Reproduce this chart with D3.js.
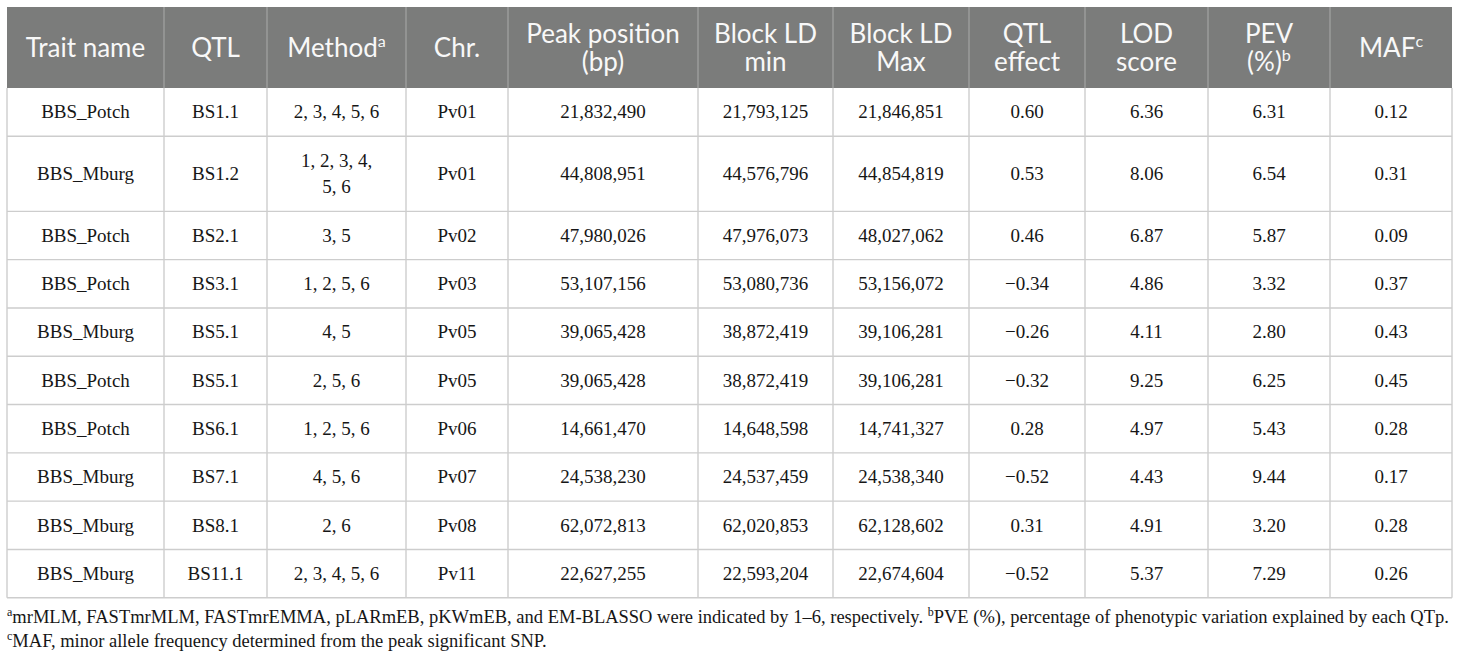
<!DOCTYPE html>
<html>
<head>
<meta charset="utf-8">
<script src="https://cdn.jsdelivr.net/npm/d3@7/dist/d3.min.js"></script>
<style>
  html, body { margin: 0; padding: 0; background: #ffffff; }
  svg { display: block; }
</style>
</head>
<body>
<div id="chart"></div>
<script>
// ---------- data ----------
const headers   = ["Trait name", "QTL", "Method", "Chr.", "Peak position\n(bp)", "Block LD\nmin", "Block LD\nMax", "QTL\neffect", "LOD\nscore", "PEV\n(%)", "MAF"];
const headerSup = ["", "", "a", "", "", "", "", "", "", "b", "c"];

const traits  = ["BBS_Potch", "BBS_Mburg", "BBS_Potch", "BBS_Potch", "BBS_Mburg", "BBS_Potch", "BBS_Potch", "BBS_Mburg", "BBS_Mburg", "BBS_Mburg"];
const qtls    = ["BS1.1", "BS1.2", "BS2.1", "BS3.1", "BS5.1", "BS5.1", "BS6.1", "BS7.1", "BS8.1", "BS11.1"];
const methods = [[2,3,4,5,6], [1,2,3,4,5,6], [3,5], [1,2,5,6], [4,5], [2,5,6], [1,2,5,6], [4,5,6], [2,6], [2,3,4,5,6]];
const chrs    = ["Pv01", "Pv01", "Pv02", "Pv03", "Pv05", "Pv05", "Pv06", "Pv07", "Pv08", "Pv11"];
const peakPos = [21832490, 44808951, 47980026, 53107156, 39065428, 39065428, 14661470, 24538230, 62072813, 22627255];
const ldMin   = [21793125, 44576796, 47976073, 53080736, 38872419, 38872419, 14648598, 24537459, 62020853, 22593204];
const ldMax   = [21846851, 44854819, 48027062, 53156072, 39106281, 39106281, 14741327, 24538340, 62128602, 22674604];
const effects = [0.60, 0.53, 0.46, -0.34, -0.26, -0.32, 0.28, -0.52, 0.31, -0.52];
const lods    = [6.36, 8.06, 6.87, 4.86, 4.11, 9.25, 4.97, 4.43, 4.91, 5.37];
const pevs    = [6.31, 6.54, 5.87, 3.32, 2.80, 6.25, 5.43, 9.44, 3.20, 7.29];
const mafs    = [0.12, 0.31, 0.09, 0.37, 0.43, 0.45, 0.28, 0.17, 0.28, 0.26];

const footnotes = [
  [["a", true], ["mrMLM, FASTmrMLM, FASTmrEMMA, pLARmEB, pKWmEB, and EM-BLASSO were indicated by 1\u20136, respectively. ", false], ["b", true], ["PVE (%), percentage of phenotypic variation explained by each QTp.", false]],
  [["c", true], ["MAF, minor allele frequency determined from the peak significant SNP.", false]]
];

// ---------- layout ----------
const W = 1460, H = 661;
const colWidths = [157, 103, 139, 102, 190, 135, 136, 116, 123, 122, 122];
const left = 7, headTop = 7, headBottom = 88;
const colX = [left].concat(Array.from(d3.cumsum(colWidths), d => left + d));
const tableRight = colX[colX.length - 1];

const headFont = "Lato, 'Open Sans', sans-serif", headSize = 26, headLH = 28.3;
const bodyFont = "'Liberation Serif', 'DejaVu Serif', serif", bodySize = 19, bodyLH = 26;
const baseRowH = 48.3;

const fmtInt = d3.format(",");
const fmt2 = d3.format(".2f");

// cells as text per column
const rows = traits.map((t, i) => [
  t, qtls[i], methods[i].join(", "), chrs[i],
  fmtInt(peakPos[i]), fmtInt(ldMin[i]), fmtInt(ldMax[i]),
  fmt2(effects[i]), fmt2(lods[i]), fmt2(pevs[i]), fmt2(mafs[i])
]);

const svg = d3.select("#chart").append("svg")
  .attr("width", W).attr("height", H)
  .attr("viewBox", `0 0 ${W} ${H}`);

// measurement helper
const meas = svg.append("text").attr("font-family", bodyFont).attr("font-size", bodySize).attr("visibility", "hidden");
function textW(s) { meas.text(s); return meas.node().getComputedTextLength(); }

function wrap(s, maxW) {
  const words = s.split(" ");
  const lines = [];
  let cur = "";
  words.forEach(w => {
    const trial = cur ? cur + " " + w : w;
    if (cur && textW(trial) > maxW) { lines.push(cur); cur = w; }
    else cur = trial;
  });
  if (cur) lines.push(cur);
  return lines;
}

const cellLines = rows.map(r => r.map((s, j) => wrap(s, colWidths[j] - 51)));
meas.remove();

const rowHeights = cellLines.map(r => baseRowH + (d3.max(r, l => l.length) - 1) * (bodyLH + 0.75));
const rowY = [headBottom].concat(Array.from(d3.cumsum(rowHeights), d => headBottom + d));
const tableBottom = rowY[rowY.length - 1];

// x scale for column centres
const xCenter = d3.scaleOrdinal().domain(d3.range(colWidths.length)).range(colWidths.map((w, j) => colX[j] + w / 2));

// ---------- header ----------
svg.append("rect")
  .attr("x", left).attr("y", headTop)
  .attr("width", tableRight - left).attr("height", headBottom - headTop)
  .attr("fill", "#7b7c7b");

svg.append("g").selectAll("line").data(colX.slice(1, -1)).join("line")
  .attr("x1", d => d).attr("x2", d => d)
  .attr("y1", headTop).attr("y2", headBottom)
  .attr("stroke", "#a3a4a3").attr("stroke-width", 1.2);

const headG = svg.append("g").attr("font-family", headFont).attr("font-size", headSize).attr("fill", "#f8f8f8").attr("text-anchor", "middle");
headers.forEach((h, j) => {
  const lines = h.split("\n");
  const cy = (headTop + headBottom) / 2;
  const capH = 0.72 * headSize;
  const b0 = cy + capH / 2 - (lines.length - 1) * headLH / 2;
  lines.forEach((ln, k) => {
    const t = headG.append("text").attr("x", xCenter(j)).attr("y", b0 + k * headLH);
    t.append("tspan").text(ln);
    if (k === lines.length - 1 && headerSup[j]) {
      t.append("tspan").attr("font-size", headSize * 0.62).attr("dy", -headSize * 0.38).text(headerSup[j]);
    }
  });
});

// ---------- body grid ----------
const gridColor = "#cdcdcd";
svg.append("g").selectAll("line").data(rowY.slice(1)).join("line")
  .attr("x1", left).attr("x2", tableRight)
  .attr("y1", d => d).attr("y2", d => d)
  .attr("stroke", gridColor).attr("stroke-width", 1.4);

svg.append("g").selectAll("line").data(colX).join("line")
  .attr("x1", d => d).attr("x2", d => d)
  .attr("y1", headBottom).attr("y2", tableBottom)
  .attr("stroke", gridColor).attr("stroke-width", 1.4);

// ---------- body text ----------
const bodyG = svg.append("g").attr("font-family", bodyFont).attr("font-size", bodySize).attr("fill", "#161616").attr("text-anchor", "middle");
cellLines.forEach((r, i) => {
  const cy = (rowY[i] + rowY[i + 1]) / 2;
  const capH = 0.66 * bodySize;
  r.forEach((lines, j) => {
    const b0 = cy + capH / 2 - (lines.length - 1) * bodyLH / 2;
    lines.forEach((ln, k) => {
      bodyG.append("text").attr("x", xCenter(j)).attr("y", b0 + k * bodyLH).text(ln);
    });
  });
});

// ---------- footnotes ----------
const footBase = [623, 647];
const footG = svg.append("g").attr("font-family", bodyFont).attr("font-size", 18.5).attr("fill", "#161616");
footnotes.forEach((parts, i) => {
  const t = footG.append("text").attr("x", left).attr("y", footBase[i]);
  parts.forEach(([s, sup]) => {
    if (sup) {
      t.append("tspan").attr("font-size", 12).attr("baseline-shift", "super").text(s);
    } else {
      t.append("tspan").text(s);
    }
  });
});
</script>
</body>
</html>
